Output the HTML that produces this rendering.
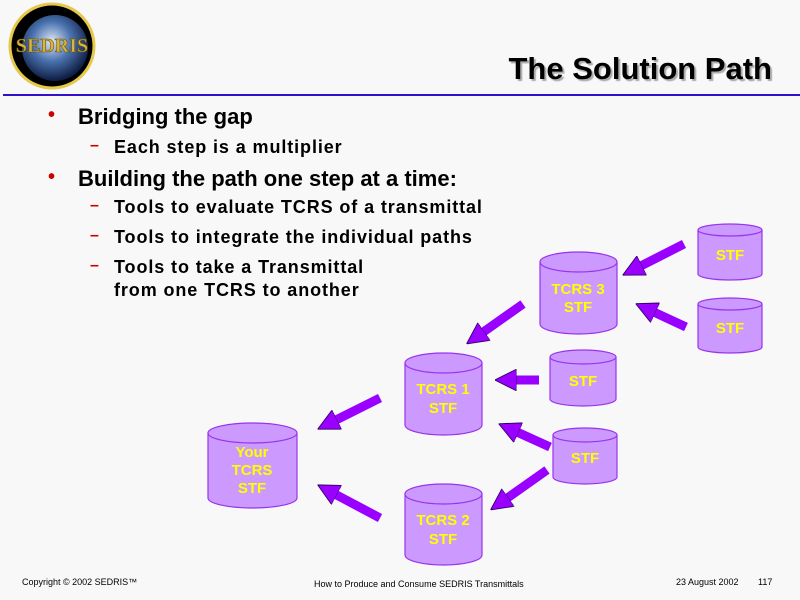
<!DOCTYPE html>
<html><head><meta charset="utf-8"><style>
body{margin:0;width:800px;height:600px;background:#f8f8f8;font-family:"Liberation Sans",Arial,sans-serif;overflow:hidden;position:relative}
.t{position:absolute;white-space:nowrap;color:#000;font-weight:bold;font-family:"Liberation Sans",Arial,sans-serif}
.s{font-size:18px;letter-spacing:0.9px}
.b{font-size:22px}
</style></head><body>
<svg width="800" height="600" style="position:absolute;left:0;top:0">
<defs>
<radialGradient id="g" cx="45%" cy="40%" r="60%"><stop offset="0" stop-color="#dfe8f5"/><stop offset=".5" stop-color="#4a72b0"/><stop offset="1" stop-color="#0e1c40"/></radialGradient>
<marker id="ah" markerWidth="2.4" markerHeight="2.4" refX="0.05" refY="1.2" orient="auto" markerUnits="strokeWidth"><path d="M0,0 L2.4,1.2 L0,2.4 Z" fill="#9900ff" stroke="#330066" stroke-width="0.1"/></marker>
</defs>
<circle cx="52" cy="46" r="42" fill="#000" stroke="#e6c84a" stroke-width="3"/>
<circle cx="55" cy="48" r="33" fill="url(#g)"/>
<text x="52" y="52" text-anchor="middle" font-family="Liberation Serif" font-weight="bold" font-size="20" fill="#d9b640" stroke="#6b5300" stroke-width="0.6">SEDRIS</text>
<rect x="3" y="94" width="797" height="2" fill="#3311cc"/>
<g fill="none" stroke="#9900ff" stroke-width="9" marker-end="url(#ah)">
<line x1="684" y1="244" x2="641.5" y2="265.6"/>
<line x1="686" y1="327" x2="654.9" y2="312.6"/>
<line x1="523" y1="304" x2="483.8" y2="331.7"/>
<line x1="539" y1="380" x2="516" y2="380"/>
<line x1="550" y1="447" x2="518" y2="432.5"/>
<line x1="547" y1="470" x2="507.8" y2="497.7"/>
<line x1="380" y1="398" x2="336.6" y2="419.7"/>
<line x1="380" y1="518" x2="336.3" y2="494.8"/>
</g>
<g fill="#cc99ff" stroke="#9933ee" stroke-width="1.2">
<path d="M698,230 v44 a32,6 0 0 0 64,0 v-44"/><ellipse cx="730" cy="230" rx="32" ry="6"/>
<path d="M698,304 v43 a32,6 0 0 0 64,0 v-43"/><ellipse cx="730" cy="304" rx="32" ry="6"/>
<path d="M540,262 v62 a38.5,10 0 0 0 77,0 v-62"/><ellipse cx="578.5" cy="262" rx="38.5" ry="10"/>
<path d="M405,363 v62 a38.5,10 0 0 0 77,0 v-62"/><ellipse cx="443.5" cy="363" rx="38.5" ry="10"/>
<path d="M550,357 v42 a33,7 0 0 0 66,0 v-42"/><ellipse cx="583" cy="357" rx="33" ry="7"/>
<path d="M553,435 v42 a32,7 0 0 0 64,0 v-42"/><ellipse cx="585" cy="435" rx="32" ry="7"/>
<path d="M208,433 v65 a44.5,10 0 0 0 89,0 v-65"/><ellipse cx="252.5" cy="433" rx="44.5" ry="10"/>
<path d="M405,494 v61 a38.5,10 0 0 0 77,0 v-61"/><ellipse cx="443.5" cy="494" rx="38.5" ry="10"/>
</g>
<g fill="#ffff00" font-family="Liberation Sans, Arial, sans-serif" font-weight="bold" font-size="15" text-anchor="middle">
<text x="730" y="260">STF</text>
<text x="730" y="333">STF</text>
<text x="578" y="294">TCRS 3</text><text x="578" y="312">STF</text>
<text x="443" y="394">TCRS 1</text><text x="443" y="413">STF</text>
<text x="583" y="386">STF</text>
<text x="585" y="463">STF</text>
<text x="252" y="457">Your</text><text x="252" y="475">TCRS</text><text x="252" y="493">STF</text>
<text x="443" y="525">TCRS 2</text><text x="443" y="544">STF</text>
</g>
</svg>
<div class="t" style="right:28px;top:51px;font-size:31px;text-shadow:2px 2px 1px #aaa">The Solution Path</div>
<div class="t" style="left:48px;top:104px;font-size:20px;color:#cc0000">•</div>
<div class="t b" style="left:78px;top:104px">Bridging the gap</div>
<div class="t" style="left:90px;top:137px;font-size:16px;color:#cc0000">–</div>
<div class="t s" style="left:114px;top:137px">Each step is a multiplier</div>
<div class="t" style="left:48px;top:166px;font-size:20px;color:#cc0000">•</div>
<div class="t b" style="left:78px;top:166px">Building the path one step at a time:</div>
<div class="t" style="left:90px;top:197px;font-size:16px;color:#cc0000">–</div>
<div class="t s" style="left:114px;top:197px">Tools to evaluate TCRS of a transmittal</div>
<div class="t" style="left:90px;top:227px;font-size:16px;color:#cc0000">–</div>
<div class="t s" style="left:114px;top:227px">Tools to integrate the individual paths</div>
<div class="t" style="left:90px;top:257px;font-size:16px;color:#cc0000">–</div>
<div class="t s" style="left:114px;top:257px">Tools to take a Transmittal</div>
<div class="t s" style="left:114px;top:280px">from one TCRS to another</div>
<div class="t" style="left:22px;top:577px;font-size:9px;font-weight:normal">Copyright © 2002 SEDRIS™</div>
<div class="t" style="left:314px;top:579px;font-size:9px;font-weight:normal">How to Produce and Consume SEDRIS Transmittals</div>
<div class="t" style="left:676px;top:577px;font-size:9px;font-weight:normal">23 August 2002</div>
<div class="t" style="left:758px;top:577px;font-size:9px;font-weight:normal">117</div>
</body></html>
